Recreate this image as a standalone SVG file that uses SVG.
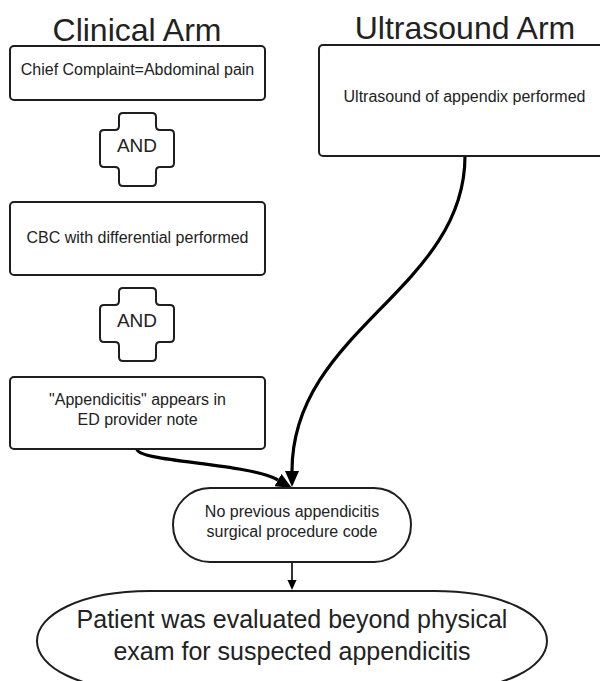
<svg xmlns="http://www.w3.org/2000/svg" xmlns:xlink="http://www.w3.org/1999/xlink" width="600" height="681" viewBox="0 0 600 681">
<style>
.box{fill:#fff;stroke:#1e1e1e;stroke-width:2}
.t{font-family:"Liberation Sans",Arial,sans-serif;fill:#222;text-anchor:middle}
.title{font-size:32px}
.lbl{font-size:16px}
.and{font-size:19px}
.big{font-size:25px}
.conn{fill:none;stroke:#000;stroke-width:3.2}
.thin{fill:none;stroke:#000;stroke-width:1.6}
</style>
<defs>
<marker id="ah" viewBox="0 -7 16 14" refX="0" refY="0" markerWidth="16" markerHeight="14" markerUnits="userSpaceOnUse" orient="auto">
<path d="M0,-7 L16,0 L0,7 z" fill="#000"/>
</marker>
<marker id="ahs" viewBox="0 -5 10 10" refX="0" refY="0" markerWidth="10" markerHeight="10" markerUnits="userSpaceOnUse" orient="auto">
<path d="M0,-4.5 L10,0 L0,4.5 z" fill="#000"/>
</marker>
<path id="cross" d="M123,113 H152 Q156,113 156,117 V126 Q156,130 160,130 H170 Q174,130 174,134 V163 Q174,167 170,167 H160 Q156,167 156,171 V182 Q156,186 152,186 H123 Q119,186 119,182 V171 Q119,167 115,167 H104 Q100,167 100,163 V134 Q100,130 104,130 H115 Q119,130 119,126 V117 Q119,113 123,113 Z"/>
</defs>
<rect width="600" height="681" fill="#fff"/>

<g id="titles">
<text class="t title" x="137" y="41">Clinical Arm</text>
<text class="t title" x="465" y="39">Ultrasound Arm</text>
</g>

<g id="connectors">
<path class="conn" d="M465,156 C465,290 292,330 292,471" marker-end="url(#ah)"/>
<path class="conn" d="M137,449 C137,462 248,463 278,480" marker-end="url(#ah)"/>
<path class="thin" d="M292,562 L292,580" marker-end="url(#ahs)"/>
</g>

<g id="chief">
<rect class="box" x="10" y="46" width="255" height="54" rx="4"/>
<text class="t lbl" x="137.5" y="75">Chief Complaint=Abdominal pain</text>
</g>

<g id="and1">
<use xlink:href="#cross" class="box"/>
<text class="t and" x="137" y="152">AND</text>
</g>

<g id="cbc">
<rect class="box" x="10" y="202" width="255" height="73" rx="4"/>
<text class="t lbl" x="137.5" y="243">CBC with differential performed</text>
</g>

<g id="and2">
<use xlink:href="#cross" class="box" transform="translate(0,175)"/>
<text class="t and" x="137" y="327">AND</text>
</g>

<g id="note">
<rect class="box" x="10" y="377" width="255" height="72" rx="4"/>
<text class="t lbl" x="137.5" y="405">"Appendicitis" appears in</text>
<text class="t lbl" x="137.5" y="425">ED provider note</text>
</g>

<g id="ultrasound">
<rect class="box" x="319" y="45" width="295" height="111" rx="4"/>
<text class="t lbl" x="464.5" y="102">Ultrasound of appendix performed</text>
</g>

<g id="noprev">
<rect class="box" x="173" y="488" width="238" height="74" rx="37"/>
<text class="t lbl" x="292" y="517">No previous appendicitis</text>
<text class="t lbl" x="292" y="537">surgical procedure code</text>
</g>

<g id="result">
<path class="box" d="M150,591 H434 C504,591 547,615 547,641 C547,667 504,691 434,691 H150 C80,691 37,667 37,641 C37,615 80,591 150,591 Z"/>
<text class="t big" x="292" y="628">Patient was evaluated beyond physical</text>
<text class="t big" x="292" y="660">exam for suspected appendicitis</text>
</g>
</svg>
